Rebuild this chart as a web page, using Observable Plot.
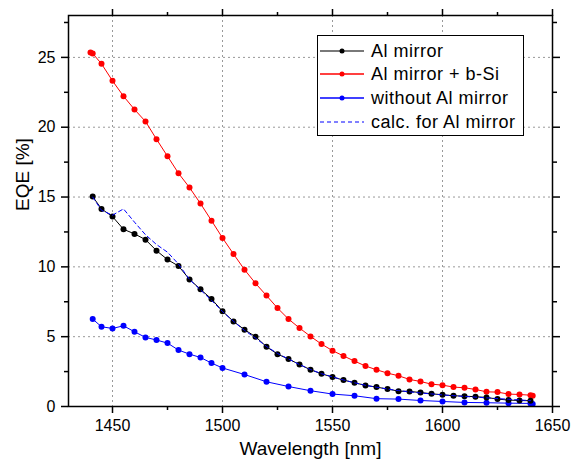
<!DOCTYPE html>
<html>
<head>
<meta charset="utf-8">
<script src="https://cdn.jsdelivr.net/npm/d3@7"></script>
<script src="https://cdn.jsdelivr.net/npm/@observablehq/plot@0.6"></script>
<style>
  html, body { margin: 0; padding: 0; background: #fff; }
  #wrap { position: relative; width: 571px; height: 466px; font-family: "Liberation Sans", Arial, sans-serif; }
  #wrap svg g[aria-label$="tick label"] { font-size: 16px; }
  #legend { position: absolute; left: 317px; top: 35px; width: 207px; height: 101px; border: 1px solid #000; background: #fff; box-sizing: border-box; }
  #legend .row { position: absolute; left: 0; height: 24px; display: flex; align-items: center; font-size: 18px; letter-spacing: 0.5px; color: #000; white-space: nowrap; }
  #legend svg { margin-left: 2px; margin-right: 7px; }
</style>
</head>
<body>
<div id="wrap"></div>
<script>
// ---- data ----
const wlMirror = [1441,1445,1450,1455,1460,1465,1470,1475,1480,1485,1490,1495,1500,1505,1510,1515,1520,1525,1530,1535,1540,1545,1550,1555,1560,1565,1570,1575,1580,1585,1590,1595,1600,1605,1610,1615,1620,1625,1630,1635,1640];
const eqeMirror = [15.03,14.15,13.60,12.69,12.36,11.95,11.16,10.52,10.06,9.10,8.39,7.70,6.82,6.09,5.50,5.00,4.28,3.75,3.40,3.01,2.63,2.34,2.11,1.89,1.70,1.51,1.39,1.25,1.10,1.08,1.00,0.91,0.84,0.77,0.74,0.70,0.65,0.53,0.46,0.43,0.41];

const wlBSi = [1440,1441,1445,1450,1455,1460,1465,1470,1475,1480,1485,1490,1495,1500,1505,1510,1515,1520,1525,1530,1535,1540,1545,1550,1555,1560,1565,1570,1575,1580,1585,1590,1595,1600,1605,1610,1615,1620,1625,1630,1635,1640,1641];
const eqeBSi = [25.35,25.28,24.54,23.32,22.22,21.27,20.41,19.14,17.92,16.70,15.68,14.53,13.31,12.07,10.92,9.80,8.82,7.94,7.05,6.26,5.62,5.02,4.47,4.00,3.62,3.25,2.90,2.63,2.39,2.20,1.94,1.79,1.60,1.53,1.39,1.34,1.22,1.05,1.03,0.89,0.86,0.81,0.77];

const wlNoMirror = [1441,1445,1450,1455,1460,1465,1470,1475,1480,1485,1490,1495,1500,1510,1520,1530,1540,1550,1560,1570,1580,1590,1600,1610,1620,1630,1640,1641];
const eqeNoMirror = [6.26,5.71,5.59,5.78,5.35,4.95,4.76,4.54,4.04,3.75,3.51,3.11,2.76,2.29,1.77,1.43,1.13,0.89,0.77,0.56,0.53,0.43,0.36,0.29,0.27,0.24,0.22,0.18];

const wlCalc = [1441,1445,1450,1455,1460,1465,1470,1475,1480,1485,1490,1495,1500,1505,1510,1515,1520,1525,1530,1535,1540,1545,1550,1555,1560,1565,1570,1575,1580,1585,1590,1595,1600,1610,1620,1630,1640];
const eqeCalc = [15.0,14.05,13.7,14.15,13.2,12.3,11.6,11.05,10.2,9.1,8.35,7.6,6.8,6.1,5.45,4.9,4.3,3.8,3.4,3.0,2.65,2.35,2.12,1.9,1.7,1.52,1.38,1.25,1.14,1.05,0.97,0.9,0.83,0.72,0.62,0.52,0.42];

const xMajor = [1450,1500,1550,1600,1650];
const xMinor = [1475,1525,1575,1625];
const xGrid = [1450,1500,1550,1600];
const yMajor = [0,5,10,15,20,25];
const yMinor = [2.5,7.5,12.5,17.5,22.5,27.5];
const yGrid = [5,10,15,20,25];

const seriesNames = ["Al mirror","Al mirror + b-Si","without Al mirror","calc. for Al mirror"];
const seriesColors = ["#000000","#ff0000","#0000ff","#0000ff"];

const toRows = (xs, ys) => xs.map((x, i) => ({x, y: ys[i]}));
const mirror = toRows(wlMirror, eqeMirror);
const bsi = toRows(wlBSi, eqeBSi);
const noMirror = toRows(wlNoMirror, eqeNoMirror);
const calc = toRows(wlCalc, eqeCalc);

const gridStyle = {stroke: "#999999", strokeOpacity: 1, strokeDasharray: "2,3", strokeWidth: 1};
const fmtNone = () => "";
const fmtPlain = d => String(d);

const chart = Plot.plot({
  width: 571,
  height: 466,
  marginLeft: 68,
  marginRight: 19,
  marginTop: 15,
  marginBottom: 60,
  style: {fontFamily: "'Liberation Sans', Arial, sans-serif", fontSize: "16px", color: "#000", background: "#fff"},
  x: {domain: [1430, 1650]},
  y: {domain: [0, 28]},
  marks: [
    Plot.ruleX(xGrid, gridStyle),
    Plot.ruleY(yGrid, gridStyle),
    Plot.line(bsi, {x: "x", y: "y", stroke: seriesColors[1], strokeWidth: 1}),
    Plot.dot(bsi, {x: "x", y: "y", r: 3, fill: seriesColors[1], stroke: "none"}),
    Plot.line(noMirror, {x: "x", y: "y", stroke: seriesColors[2], strokeWidth: 1}),
    Plot.dot(noMirror, {x: "x", y: "y", r: 3, fill: seriesColors[2], stroke: "none"}),
    Plot.line(mirror, {x: "x", y: "y", stroke: seriesColors[0], strokeWidth: 1}),
    Plot.dot(mirror, {x: "x", y: "y", r: 3, fill: seriesColors[0], stroke: "none"}),
    Plot.line(calc, {x: "x", y: "y", stroke: seriesColors[3], strokeWidth: 1, strokeDasharray: "4,3"}),
    Plot.frame({stroke: "#000", strokeWidth: 1.5}),
    Plot.axisX(xMajor, {anchor: "bottom", tickSize: 7, tickPadding: 6, strokeWidth: 1.5, label: null, tickFormat: fmtPlain}),
    Plot.axisX(xMinor, {anchor: "bottom", tickSize: 4, tickFormat: fmtNone, strokeWidth: 1.5, label: null}),
    Plot.axisX(xMajor, {anchor: "top", tickSize: 7, tickFormat: fmtNone, strokeWidth: 1.5, label: null}),
    Plot.axisX(xMinor, {anchor: "top", tickSize: 4, tickFormat: fmtNone, strokeWidth: 1.5, label: null}),
    Plot.axisY(yMajor, {anchor: "left", tickSize: 7, tickPadding: 6, strokeWidth: 1.5, label: null, tickFormat: fmtPlain}),
    Plot.axisY(yMinor, {anchor: "left", tickSize: 4, tickFormat: fmtNone, strokeWidth: 1.5, label: null}),
    Plot.axisY(yMajor, {anchor: "right", tickSize: 7, tickFormat: fmtNone, strokeWidth: 1.5, label: null}),
    Plot.axisY(yMinor, {anchor: "right", tickSize: 4, tickFormat: fmtNone, strokeWidth: 1.5, label: null}),
    Plot.text(["Wavelength [nm]"], {text: d => d, frameAnchor: "bottom", dy: 48, fontSize: 19, fill: "#000"}),
    Plot.text(["EQE [%]"], {text: d => d, frameAnchor: "left", dx: -46, rotate: -90, fontSize: 19, fill: "#000"})
  ]
});

const wrap = document.getElementById("wrap");
wrap.appendChild(chart);

// legend (HTML overlay)
const legend = document.createElement("div");
legend.id = "legend";
const rowTops = [3, 26, 50, 74];
seriesNames.forEach((name, i) => {
  const row = document.createElement("div");
  row.className = "row";
  row.style.top = rowTops[i] + "px";
  const dashed = i === 3;
  const col = seriesColors[i];
  row.innerHTML = `<svg width="44" height="10">` +
    `<line x1="0" y1="5" x2="44" y2="5" stroke="${col}" stroke-width="${dashed ? 1 : 1.5}" ${dashed ? 'stroke-dasharray="4,3"' : ''} ${i===0 ? 'stroke-opacity="0.7"' : ''}/>` +
    (dashed ? "" : `<circle cx="22" cy="5" r="2.5" fill="${col}"/>`) +
    `</svg><span>${name}</span>`;
  legend.appendChild(row);
});
wrap.appendChild(legend);
</script>
</body>
</html>
